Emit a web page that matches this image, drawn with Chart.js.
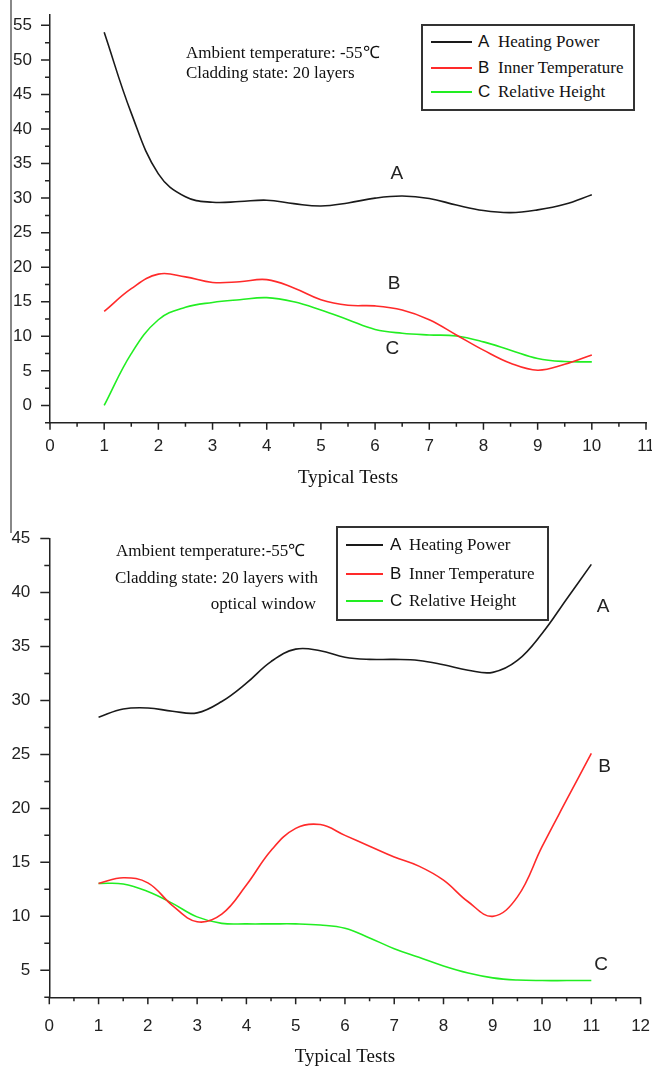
<!DOCTYPE html>
<html>
<head>
<meta charset="utf-8">
<script src="https://cdn.jsdelivr.net/npm/chart.js@4.4.1/dist/chart.umd.min.js"></script>
<style>
  body { margin: 0; background: #fff; }
  #page { position: relative; width: 652px; height: 1072px; overflow: hidden; background: #fff; }
  canvas { position: absolute; left: 0; }
  #c1 { top: 0; }
  #c2 { top: 500px; }
  .edge { position: absolute; left: 10px; top: 0; width: 2px; height: 533px; background: #888; }
  .note { position: absolute; font-family: "Liberation Serif", serif; font-size: 17px; line-height: 20px; color: #111; white-space: nowrap; }
  .legend { position: absolute; border: 2px solid #333; box-sizing: border-box; background: #fff; }
  .row { position: absolute; height: 20px; line-height: 20px; white-space: nowrap; color: #111; }
  .row .swatch { position: absolute; top: 9px; height: 2px; }
  .row .key { position: absolute; font-family: "Liberation Sans", sans-serif; font-size: 17px; }
  .row .txt { position: absolute; font-family: "Liberation Serif", serif; font-size: 17px; }
</style>
</head>
<body>
<div id="page">
  <canvas id="c1" width="652" height="500"></canvas>
  <canvas id="c2" width="652" height="572"></canvas>
  <div class="edge"></div>
  <div class="note" style="left:186px;top:43px">Ambient temperature: -55℃</div>
  <div class="note" style="left:186px;top:63px">Cladding state: 20 layers</div>
  <div class="note" style="left:116px;top:541px">Ambient temperature:-55℃</div>
  <div class="note" style="left:115px;top:568px">Cladding state: 20 layers with</div>
  <div class="note" style="left:200px;top:594px;width:116px;text-align:right">optical window</div>
  <div class="legend" id="leg1" style="left:421px;top:24px;width:214px;height:87px"></div>
  <div class="legend" id="leg2" style="left:336px;top:526px;width:213px;height:95px"></div>
</div>
<script>
// series names and colours
const seriesKeys = ['A', 'B', 'C'];
const seriesNames = ['Heating Power', 'Inner Temperature', 'Relative Height'];
const seriesColors = ['#1a1a1a', '#ff2a2a', '#22ee22'];

// upper panel: 20 layers
const testsTop = [1, 1.5, 2, 2.5, 3, 3.5, 4, 4.5, 5, 5.5, 6, 6.5, 7, 7.5, 8, 8.5, 9, 9.5, 10];
const heatingTop = [54, 42.3, 33.5, 30.2, 29.4, 29.5, 29.7, 29.2, 28.85, 29.3, 30.0, 30.3, 29.95, 29.0, 28.2, 27.9, 28.3, 29.1, 30.5];
const innerTop = [13.6, 16.9, 19.0, 18.6, 17.8, 17.9, 18.2, 17.0, 15.3, 14.5, 14.4, 13.8, 12.4, 10.2, 8.0, 6.1, 5.1, 5.95, 7.3];
const heightTop = [0, 7.5, 12.4, 14.2, 14.9, 15.3, 15.6, 15.0, 13.8, 12.4, 11.0, 10.45, 10.2, 10.05, 9.2, 8.0, 6.8, 6.35, 6.3];
const xTicksTop = [0, 1, 2, 3, 4, 5, 6, 7, 8, 9, 10, 11];
const yTicksTop = [0, 5, 10, 15, 20, 25, 30, 35, 40, 45, 50, 55];

// lower panel: 20 layers with optical window
const testsBottom = [1, 1.5, 2, 2.5, 3, 3.5, 4, 4.5, 5, 5.5, 6, 6.5, 7, 7.5, 8, 8.5, 9, 9.5, 10, 10.5, 11];
const heatingBottom = [28.45, 29.2, 29.3, 29.0, 28.85, 29.9, 31.6, 33.6, 34.75, 34.6, 34.0, 33.8, 33.8, 33.7, 33.3, 32.8, 32.6, 33.7, 36.2, 39.4, 42.6];
const innerBottom = [13.05, 13.57, 13.1, 11.0, 9.5, 10.2, 12.9, 16.1, 18.15, 18.5, 17.5, 16.5, 15.5, 14.65, 13.35, 11.35, 10.0, 11.8, 16.45, 20.8, 25.1];
const heightBottom = [13.05, 13.0, 12.3, 11.2, 9.95, 9.35, 9.3, 9.3, 9.3, 9.2, 8.9, 8.0, 7.0, 6.2, 5.4, 4.75, 4.3, 4.1, 4.05, 4.05, 4.05];
const xTicksBottom = [0, 1, 2, 3, 4, 5, 6, 7, 8, 9, 10, 11, 12];
const yTicksBottom = [5, 10, 15, 20, 25, 30, 35, 40, 45];

Chart.defaults.font.family = '"Liberation Sans", Arial, sans-serif';
Chart.defaults.color = '#222';

// draws major/minor tick marks and the A/B/C curve tags
const axisDecor = {
  id: 'axisDecor',
  afterDraw(chart, args, opts) {
    const { ctx } = chart;
    const x = chart.scales.x, y = chart.scales.y;
    ctx.save();
    ctx.strokeStyle = '#222';
    ctx.lineWidth = 1.5;
    ctx.beginPath();
    for (let v = x.min; v <= x.max + 1e-6; v += 0.5) {
      const px = x.getPixelForValue(v);
      const len = Number.isInteger(v) ? 7 : 4;
      ctx.moveTo(px, x.top);
      ctx.lineTo(px, x.top + len);
    }
    for (let v = opts.yStart; v <= y.max + 1e-6; v += 2.5) {
      const py = y.getPixelForValue(v);
      const len = (v % 5 === 0) ? 9 : 5;
      ctx.moveTo(y.right, py);
      ctx.lineTo(y.right - len, py);
    }
    ctx.stroke();
    ctx.font = '19px "Liberation Sans", sans-serif';
    ctx.fillStyle = '#222';
    ctx.textAlign = 'center';
    ctx.textBaseline = 'middle';
    opts.tags.forEach(t => ctx.fillText(t.text, x.getPixelForValue(t.x), y.getPixelForValue(t.y)));
    ctx.restore();
  }
};

function makeChart(id, tests, series, cfg) {
  const ctx = document.getElementById(id).getContext('2d');
  return new Chart(ctx, {
    type: 'line',
    data: {
      datasets: series.map((vals, i) => ({
        label: seriesKeys[i] + ' ' + seriesNames[i],
        data: tests.map((t, j) => ({ x: t, y: vals[j] })),
        borderColor: seriesColors[i],
        borderWidth: 1.6,
        pointRadius: 0,
        tension: 0.4,
        fill: false
      }))
    },
    options: {
      responsive: false,
      animation: false,
      layout: { padding: cfg.padding },
      plugins: {
        legend: { display: false },
        tooltip: { enabled: false },
        axisDecor: { yStart: cfg.yStart, tags: cfg.tags }
      },
      scales: {
        x: {
          type: 'linear',
          min: cfg.xMin, max: cfg.xMax,
          afterBuildTicks: s => { s.ticks = cfg.xTicks.map(v => ({ value: v })); },
          afterFit: s => { s.height = cfg.xHeight; s.paddingLeft = 0; s.paddingRight = 0; },
          grid: { display: false, drawTicks: false },
          border: { display: true, color: '#222', width: 1.5 },
          ticks: { padding: cfg.xPad, font: { size: 17 }, maxRotation: 0, autoSkip: false },
          title: {
            display: true, text: 'Typical Tests', color: '#111',
            font: { family: '"Liberation Serif", "Times New Roman", serif', size: 19 },
            padding: { top: 0, bottom: cfg.titlePad }
          }
        },
        y: {
          type: 'linear',
          min: cfg.yMin, max: cfg.yMax,
          afterBuildTicks: s => { s.ticks = cfg.yTicks.map(v => ({ value: v })); },
          afterFit: s => { s.width = cfg.yWidth; s.paddingTop = 0; s.paddingBottom = 0; },
          grid: { display: false, drawTicks: false },
          border: { display: true, color: '#222', width: 1.5 },
          ticks: { padding: cfg.yPad, font: { size: 17 }, autoSkip: false }
        }
      }
    },
    plugins: [axisDecor]
  });
}

makeChart('c1', testsTop, [heatingTop, innerTop, heightTop], {
  padding: { left: 0, top: 15, right: 6, bottom: 0 },
  xMin: 0, xMax: 11, yMin: -2.5, yMax: 56.5,
  xTicks: xTicksTop, yTicks: yTicksTop, yStart: -2.5,
  xHeight: 77.3, yWidth: 50, xPad: 13, yPad: 18, titlePad: 10.6,
  tags: [{ text: 'A', x: 6.4, y: 33.5 }, { text: 'B', x: 6.35, y: 17.6 }, { text: 'C', x: 6.32, y: 8.2 }]
});

makeChart('c2', testsBottom, [heatingBottom, innerBottom, heightBottom], {
  padding: { left: 0, top: 38.5, right: 11.4, bottom: 0 },
  xMin: 0, xMax: 12, yMin: 2.5, yMax: 45,
  xTicks: xTicksBottom, yTicks: yTicksBottom, yStart: 2.5,
  xHeight: 74.7, yWidth: 49.3, xPad: 19, yPad: 19, titlePad: 3.6,
  tags: [{ text: 'A', x: 11.24, y: 38.7 }, { text: 'B', x: 11.27, y: 23.9 }, { text: 'C', x: 11.2, y: 5.5 }]
});

// legend boxes built from the series lists
function buildLegend(id, rows, swatchX, keyX, txtX) {
  const box = document.getElementById(id);
  seriesKeys.forEach((k, i) => {
    const row = document.createElement('div');
    row.className = 'row';
    row.style.left = '0px';
    row.style.top = (rows[i] - 10) + 'px';
    row.innerHTML =
      '<div class="swatch" style="left:' + swatchX[0] + 'px;width:' + (swatchX[1] - swatchX[0]) + 'px;background:' + seriesColors[i] + '"></div>' +
      '<span class="key" style="left:' + keyX + 'px">' + k + '</span>' +
      '<span class="txt" style="left:' + txtX + 'px">' + seriesNames[i] + '</span>';
    box.appendChild(row);
  });
}
// offsets are relative to the inner edge of each box (border 2px)
buildLegend('leg1', [41.7 - 26, 67.7 - 26, 92.3 - 26], [8, 49], 55, 75);
buildLegend('leg2', [545 - 528, 574 - 528, 601 - 528], [8, 45], 52, 71);
</script>
</body>
</html>
